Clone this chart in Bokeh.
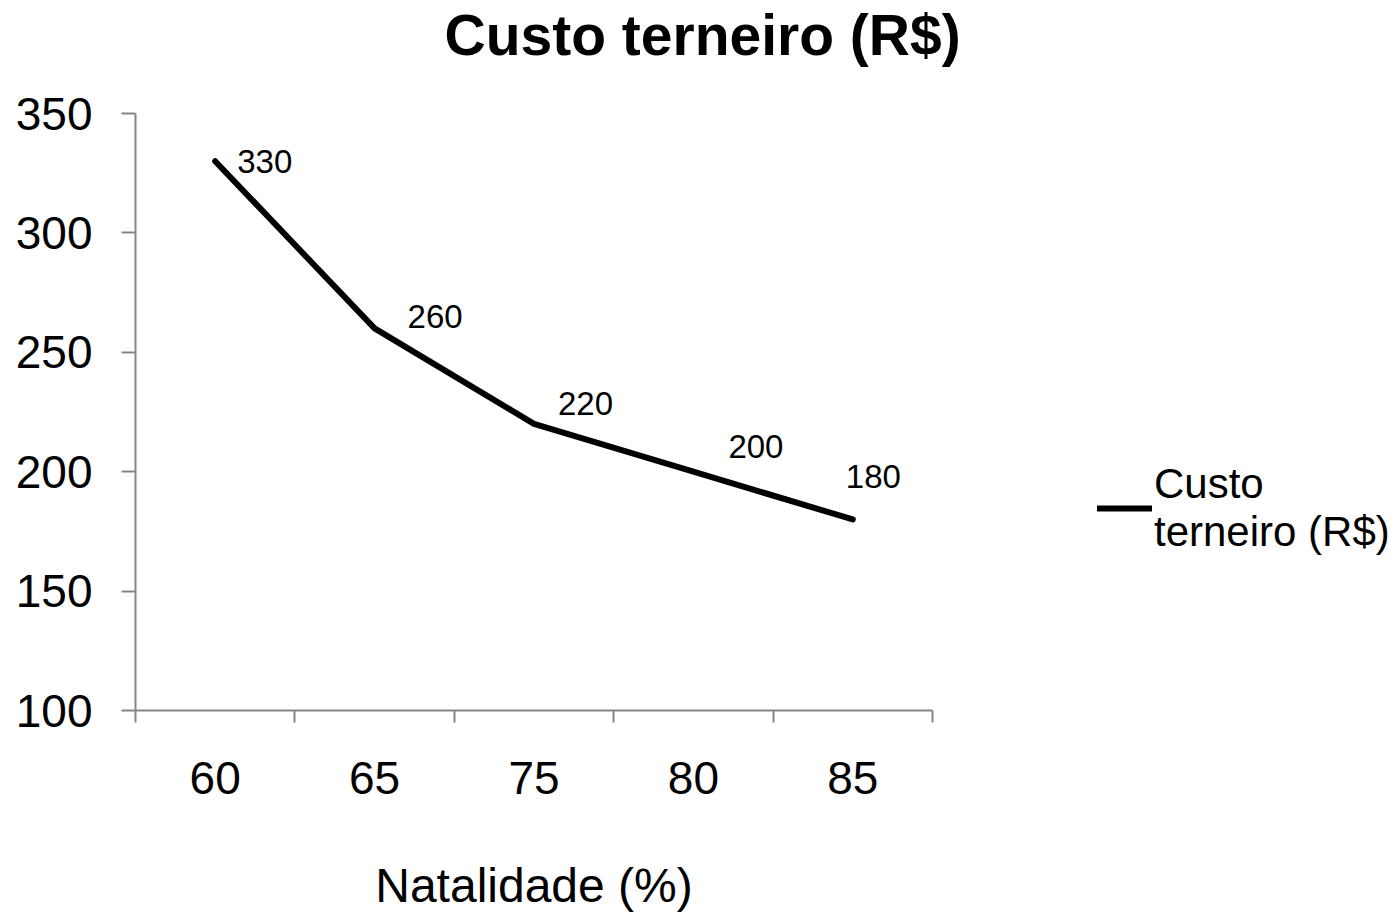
from bokeh.plotting import figure
from bokeh.layouts import row
from bokeh.models import (ColumnDataSource, FixedTicker, Legend, LegendItem, Title,
                          LinearAxis)
from bokeh.core.properties import value
from bokeh.embed import file_html
from bokeh.resources import INLINE

# ---- data ----
categories = ["60", "65", "75", "80", "85"]
custo = [330, 260, 220, 200, 180]
series_name = "Custo\nterneiro (R$)"
title_text = "Custo terneiro (R$)"
x_title = "Natalidade (%)"
y_ticks = [100, 150, 200, 250, 300, 350]

# label placement offsets (style, screen px)
label_dx = [22, 33, 24, 35, -7]
label_dy = [0, -12, -20, -25, -43]

FONT = "Liberation Sans"
GRAY = "#868686"

x_idx = list(range(len(categories)))
src = ColumnDataSource(dict(x=x_idx, y=custo, t=[str(v) for v in custo],
                            dx=label_dx, dy=label_dy))

# ---------------- main chart ----------------
p = figure(width=1000, height=914,
           x_range=(-0.5, len(categories) - 0.5), y_range=(100, 350),
           output_backend="svg", toolbar_location=None,
           min_border_left=135, min_border_right=68,
           min_border_top=113, min_border_bottom=203)

xa = p.below[0]
ya = p.left[0]

p.title = Title(text=title_text, text_font=FONT, text_font_size="57px",
                text_font_style="bold", align="left", offset=309, standoff=0,
                text_color="black")

# invisible spacer between title and plot area (white tick on white, no labels)
spacer = LinearAxis(ticker=FixedTicker(ticks=[x_idx[0]], minor_ticks=[]),
                    axis_line_color=None, major_tick_line_color="white",
                    major_tick_line_width=1,
                    minor_tick_line_color=None, major_tick_in=0, major_tick_out=47,
                    minor_tick_in=0, minor_tick_out=0, major_label_standoff=0,
                    major_label_overrides={x_idx[0]: ""},
                    major_label_text_font_size="0px")
p.add_layout(spacer, "above")

p.outline_line_color = None
p.xgrid.visible = False
p.ygrid.visible = False
p.background_fill_color = "white"
p.border_fill_color = "white"

# x axis: labels at category centres, ticks on boundaries
xa.ticker = FixedTicker(ticks=x_idx,
                        minor_ticks=[i - 0.5 for i in range(len(categories) + 1)])
xa.major_label_overrides = {i: c for i, c in enumerate(categories)}
xa.major_tick_line_color = None
xa.major_tick_in = 0
xa.major_tick_out = 12
xa.minor_tick_line_color = GRAY
xa.minor_tick_line_width = 2
xa.minor_tick_in = 0
xa.minor_tick_out = 12
xa.axis_line_color = GRAY
xa.axis_line_width = 2
xa.major_label_text_font = FONT
xa.major_label_text_font_size = "46px"
xa.major_label_text_color = "black"
xa.major_label_standoff = 39
xa.axis_label = x_title
xa.axis_label_text_font = FONT
xa.axis_label_text_font_size = "48px"
xa.axis_label_text_font_style = "normal"
xa.axis_label_text_color = "black"
xa.axis_label_standoff = 62

ya.ticker = FixedTicker(ticks=y_ticks, minor_ticks=[])
ya.major_tick_line_color = GRAY
ya.major_tick_line_width = 2
ya.major_tick_in = 0
ya.major_tick_out = 14
ya.minor_tick_line_color = None
ya.axis_line_color = GRAY
ya.axis_line_width = 2
ya.major_label_text_font = FONT
ya.major_label_text_font_size = "46px"
ya.major_label_text_color = "black"
ya.major_label_standoff = 29

line_style = dict(line_color="black", line_width=6, line_join="round", line_cap="round")
p.line("x", "y", source=src, **line_style)

p.text("x", "y", text="t", source=src, x_offset="dx", y_offset="dy",
       text_font=value(FONT), text_font_size="33px", text_color="black",
       text_align="left", text_baseline="middle")

# ---------------- legend panel ----------------
q = figure(width=400, height=914, x_range=(-20, -19), y_range=(0, 1),
           output_backend="svg", toolbar_location=None,
           x_axis_location=None, y_axis_location=None,
           min_border=0)
q.outline_line_color = None
q.xgrid.visible = False
q.ygrid.visible = False
q.background_fill_color = "white"
q.border_fill_color = "white"
legend_line = q.line("x", "y", source=src, **line_style)

legend = Legend(items=[LegendItem(label=series_name, renderers=[legend_line])],
                location=(97, 154), orientation="vertical",
                border_line_color=None, background_fill_alpha=0,
                label_text_font=FONT, label_text_font_size="42px",
                label_text_color="black", glyph_width=55, glyph_height=40,
                label_standoff=2, padding=0, margin=0, spacing=0)
q.add_layout(legend, "center")

layout = row(p, q, spacing=0)
open("out.html", "w").write(file_html(layout, INLINE))
